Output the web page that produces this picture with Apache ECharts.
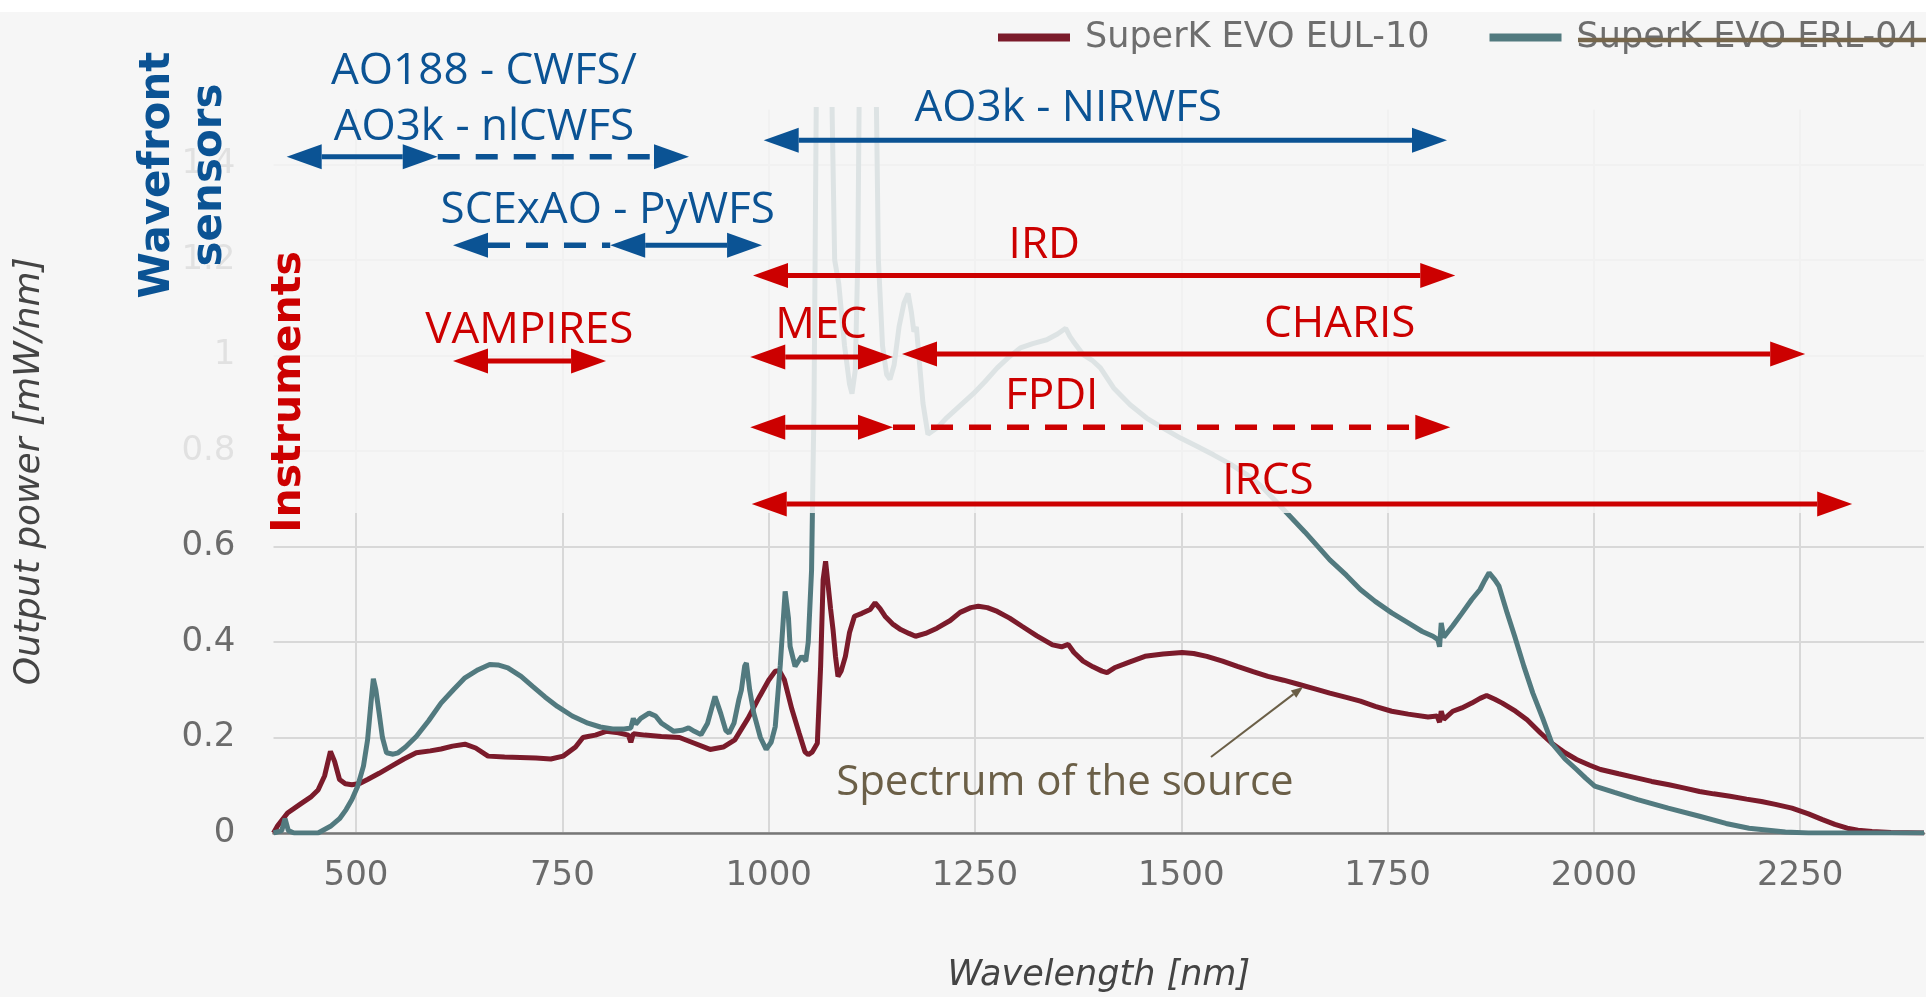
<!DOCTYPE html>
<html>
<head>
<meta charset="utf-8">
<script src="https://cdn.jsdelivr.net/npm/echarts@6.0.0/dist/echarts.min.js"></script>
<style>
html,body{margin:0;padding:0;background:#f6f6f6;}
#chart{width:1926px;height:997px;}
</style>
</head>
<body>
<div id="chart"></div>
<script>
// ---------- data ----------
const xTicks = [500, 750, 1000, 1250, 1500, 1750, 2000, 2250];
const yTicks = [0, 0.2, 0.4, 0.6, 0.8, 1, 1.2, 1.4];
const seriesNames = ['SuperK EVO EUL-10', 'SuperK EVO ERL-04'];

// [wavelength nm, output power mW/nm]
const eul10 = [
  [400,0],[405,0.015],[417,0.042],[432,0.06],[445,0.075],[454,0.09],[462,0.12],[469,0.171],[474,0.15],[480,0.112],
  [487,0.103],[495,0.101],[505,0.104],[514,0.112],[528,0.125],[543,0.14],[558,0.155],[573,0.168],[590,0.172],[603,0.176],
  [617,0.182],[632,0.186],[645,0.178],[660,0.161],[680,0.159],[699,0.158],[718,0.157],[736,0.155],[751,0.161],[766,0.18],
  [775,0.2],[781,0.202],[790,0.205],[803,0.213],[818,0.21],[830,0.205],[833,0.19],[836,0.208],[850,0.205],[870,0.202],
  [892,0.2],[910,0.188],[929,0.175],[945,0.18],[959,0.195],[975,0.24],[989,0.286],[1000,0.32],[1008,0.339],[1013,0.34],
  [1019,0.321],[1028,0.26],[1037,0.209],[1044,0.17],[1048,0.164],[1053,0.17],[1059,0.188],[1063,0.35],[1066,0.53],[1069,0.569],
  [1072,0.52],[1075,0.47],[1078,0.426],[1081,0.37],[1084,0.328],[1088,0.34],[1093,0.37],[1098,0.42],[1104,0.454],[1113,0.46],
  [1123,0.468],[1129,0.482],[1135,0.47],[1141,0.454],[1150,0.438],[1160,0.426],[1170,0.418],[1178,0.412],[1190,0.418],[1204,0.429],
  [1220,0.445],[1232,0.462],[1245,0.472],[1254,0.475],[1265,0.472],[1277,0.464],[1292,0.45],[1307,0.433],[1325,0.413],[1344,0.394],
  [1355,0.39],[1363,0.395],[1370,0.378],[1381,0.36],[1393,0.348],[1404,0.339],[1410,0.336],[1419,0.346],[1437,0.358],[1456,0.37],
  [1478,0.375],[1501,0.378],[1515,0.376],[1531,0.37],[1550,0.36],[1568,0.349],[1587,0.338],[1605,0.328],[1624,0.32],[1643,0.311],
  [1662,0.302],[1680,0.293],[1700,0.284],[1717,0.276],[1735,0.265],[1755,0.255],[1775,0.249],[1799,0.243],[1810,0.245],[1813,0.232],
  [1815,0.255],[1818,0.238],[1829,0.255],[1840,0.262],[1852,0.272],[1862,0.282],[1870,0.288],[1880,0.28],[1889,0.272],[1905,0.255],
  [1919,0.237],[1935,0.21],[1949,0.188],[1965,0.168],[1979,0.154],[1995,0.142],[2008,0.133],[2030,0.124],[2053,0.115],[2070,0.108],
  [2091,0.101],[2110,0.094],[2128,0.087],[2145,0.082],[2165,0.077],[2185,0.071],[2203,0.066],[2220,0.06],[2240,0.052],[2260,0.04],
  [2277,0.028],[2292,0.018],[2307,0.01],[2320,0.006],[2337,0.003],[2360,0.001],[2400,0]
];

const erl04 = [
  [400,0],[410,0.005],[414,0.03],[418,0.005],[425,0],[454,0],[469,0.014],[480,0.03],[488,0.049],[495,0.07],
  [502,0.098],[509,0.14],[514,0.195],[518,0.27],[521,0.323],[524,0.3],[528,0.251],[532,0.2],[537,0.168],[545,0.165],
  [551,0.168],[560,0.18],[573,0.202],[588,0.235],[603,0.272],[618,0.3],[632,0.325],[648,0.342],[662,0.353],[672,0.352],
  [684,0.346],[700,0.328],[714,0.307],[729,0.285],[744,0.265],[762,0.245],[781,0.23],[796,0.222],[811,0.218],[825,0.218],
  [833,0.22],[836,0.24],[839,0.228],[845,0.24],[855,0.251],[863,0.245],[870,0.23],[885,0.213],[895,0.215],[903,0.22],
  [910,0.213],[918,0.206],[926,0.23],[935,0.286],[942,0.25],[948,0.215],[952,0.209],[958,0.23],[964,0.28],[967,0.3],
  [971,0.35],[973,0.356],[977,0.3],[982,0.251],[990,0.2],[997,0.175],[1003,0.19],[1008,0.223],[1014,0.35],[1020,0.506],
  [1024,0.45],[1026,0.391],[1032,0.349],[1036,0.36],[1040,0.37],[1045,0.36],[1048,0.4],[1052,0.55],[1055,0.9],[1058,1.6],
  [1060,2.0],[1074,2.0],[1077,1.5],[1080,1.2],[1085,1.15],[1092,1.02],[1098,0.94],[1101,0.92],[1105,0.97],[1108,1.2],
  [1111,1.8],[1113,2.0],[1127,2.0],[1130,1.6],[1133,1.2],[1138,1.02],[1143,0.96],[1147,0.95],[1152,0.98],[1158,1.06],
  [1164,1.11],[1169,1.13],[1173,1.09],[1176,1.05],[1179,1.06],[1183,0.98],[1187,0.9],[1193,0.835],[1205,0.85],[1216,0.87],
  [1232,0.895],[1248,0.92],[1262,0.945],[1277,0.974],[1290,0.995],[1305,1.016],[1320,1.025],[1337,1.033],[1350,1.045],[1360,1.057],
  [1365,1.04],[1369,1.03],[1381,1.002],[1392,0.99],[1402,0.974],[1418,0.932],[1438,0.897],[1458,0.869],[1478,0.848],[1499,0.827],
  [1519,0.81],[1539,0.792],[1560,0.772],[1580,0.75],[1596,0.728],[1611,0.701],[1628,0.67],[1650,0.63],[1680,0.572],[1700,0.54],
  [1717,0.51],[1735,0.485],[1755,0.461],[1775,0.44],[1792,0.422],[1805,0.412],[1811,0.405],[1813,0.39],[1815,0.44],[1818,0.41],
  [1829,0.434],[1840,0.46],[1852,0.489],[1862,0.51],[1868,0.53],[1873,0.545],[1880,0.53],[1885,0.517],[1895,0.46],[1904,0.412],
  [1915,0.35],[1926,0.293],[1938,0.24],[1949,0.188],[1965,0.155],[1979,0.133],[1990,0.115],[2001,0.098],[2025,0.085],[2053,0.07],
  [2090,0.052],[2128,0.035],[2160,0.02],[2188,0.01],[2232,0.002],[2260,0],[2400,0]
];

// Coverage bands: [start nm, end nm, level on the power axis]
const wfsSolid  = [[416,599,1.416],[994,1822,1.451],[808,992,1.231]];
const wfsDashed = [[599,903.5,1.416],[617.5,808,1.231]];
const wfsLabels = ['AO188 - CWFS/\nAO3k - nlCWFS', 'AO3k - NIRWFS', 'SCExAO - PyWFS'];
const wfsLabelAt = [[655,1.5455],[1363,1.5267],[805,1.3131]];

const instSolid  = [[981,1832,1.1675],[617.5,803,0.9885],[977.7,1150.7,0.997],[1161.6,2256,1.003],[977.7,1150.7,0.8496],[979.5,2313,0.689]];
const instDashed = [[1150.7,1826,0.8496]];
const instLabels = ['IRD', 'VAMPIRES', 'MEC', 'CHARIS', 'FPDI', 'IRCS'];
const instLabelAt = [[1334,1.2398],[710,1.0618],[1063.5,1.0712],[1692,1.0743],[1343,0.9225],[1605,0.7445]];

const groupTitles = ['Wavefront\nsensors', 'Instruments'];
const sourceNote = ['Spectrum of the source'];
const sourceNoteAt = [[1359,0.1131]];
const sourcePointer = [[1536,0.159,1647.6,0.306]];

// ---------- styles ----------
const BLUE = '#0b5394', RED = '#cc0000', NOTE = '#6b5f47';
const EUL_COLOR = '#7b1b2b', ERL_COLOR = '#527a7f';
const PLOT_FONT = '"DejaVu Sans", Verdana, sans-serif';

function arrowShapes(p1, p2, color, width, headStart, headEnd, L, H, dash) {
  const dx = p2[0] - p1[0], dy = p2[1] - p1[1];
  const len = Math.hypot(dx, dy) || 1;
  const ux = dx / len, uy = dy / len, nx = -uy, ny = ux;
  const s = headStart ? [p1[0] + ux * L, p1[1] + uy * L] : p1;
  const e = headEnd ? [p2[0] - ux * L, p2[1] - uy * L] : p2;
  const kids = [{
    type: 'line',
    shape: {x1: s[0], y1: s[1], x2: e[0], y2: e[1]},
    style: {stroke: color, lineWidth: width, lineDash: dash || null, fill: null}
  }];
  if (headStart) kids.push({type: 'polygon', shape: {points: [p1, [s[0] + nx * H, s[1] + ny * H], [s[0] - nx * H, s[1] - ny * H]]}, style: {fill: color}});
  if (headEnd) kids.push({type: 'polygon', shape: {points: [p2, [e[0] + nx * H, e[1] + ny * H], [e[0] - nx * H, e[1] - ny * H]]}, style: {fill: color}});
  return kids;
}

function bandSeries(name, segs, color, dashed, solidRef) {
  return {
    type: 'custom', name: name, coordinateSystem: 'cartesian2d', silent: true, z: 6,
    data: segs, encode: {x: [0, 1], y: 2},
    renderItem: function (params, api) {
      const a = api.value(0), b = api.value(1), lv = api.value(2);
      const p1 = api.coord([a, lv]), p2 = api.coord([b, lv]);
      let hs = true, he = true;
      if (dashed) {
        const touches = v => solidRef.some(s => Math.abs(s[2] - lv) < 1e-6 && (Math.abs(s[0] - v) < 1e-6 || Math.abs(s[1] - v) < 1e-6));
        hs = !touches(a); he = !touches(b);
      }
      return {type: 'group', children: arrowShapes(p1, p2, color, dashed ? 5.5 : 5, hs, he, 35, 12.5, dashed ? [22, 16] : null)};
    }
  };
}

function labelSeries(name, texts, at, color, size) {
  return {
    type: 'custom', name: name, coordinateSystem: 'cartesian2d', silent: true, z: 7,
    data: at,
    renderItem: function (params, api) {
      const p = api.coord([api.value(0), api.value(1)]);
      return {
        type: 'text', x: p[0], y: p[1] + 4,
        style: {text: texts[params.dataIndex], fill: color, fontSize: size, fontFamily: '"Open Sans"',
                align: 'center', verticalAlign: 'middle', lineHeight: 56}
      };
    }
  };
}

const chart = echarts.init(document.getElementById('chart'), null, {renderer: 'canvas'});
const option = {
  backgroundColor: '#f6f6f6',
  animation: false,
  grid: {left: 273.5, right: 2, top: 109.6, bottom: 164, containLabel: false, outerBoundsMode: 'none'},
  legend: {
    data: seriesNames, left: 998, top: 20, padding: 0, width: 1600, icon: 'rect', itemWidth: 72, itemHeight: 8, itemGap: 60,
    selectedMode: false,
    textStyle: {fontFamily: PLOT_FONT, fontSize: 35, color: '#6e6e6e', padding: [0, 0, 0, 10]}
  },
  xAxis: {
    type: 'value', min: 400, max: 2400,
    name: 'Wavelength [nm]', nameLocation: 'middle', nameGap: 125,
    nameTextStyle: {fontFamily: PLOT_FONT, fontStyle: 'italic', fontSize: 35, color: '#444'},
    axisLine: {show: true, onZero: false, lineStyle: {color: '#777', width: 2.5}},
    axisTick: {show: false, customValues: xTicks},
    axisLabel: {customValues: xTicks, margin: 26, fontFamily: PLOT_FONT, fontSize: 34, color: '#6b6b6b',
                formatter: v => String(v)},
    splitLine: {show: true, lineStyle: {color: '#d8d8d8', width: 2}}
  },
  yAxis: {
    type: 'value', min: 0, max: 1.515,
    name: 'Output power [mW/nm]', nameLocation: 'middle', nameGap: 226,
    nameTextStyle: {fontFamily: PLOT_FONT, fontStyle: 'italic', fontSize: 36, color: '#444'},
    axisLine: {show: false},
    axisTick: {show: false, customValues: yTicks},
    axisLabel: {customValues: yTicks, margin: 38, fontFamily: PLOT_FONT, fontSize: 34, color: '#6b6b6b',
                formatter: v => String(v)},
    splitLine: {show: true, lineStyle: {color: '#d8d8d8', width: 2}}
  },
  series: [
    {type: 'line', name: seriesNames[0], data: eul10, symbol: 'none', showSymbol: false, silent: true, z: 2,
     lineStyle: {color: EUL_COLOR, width: 5}, itemStyle: {color: EUL_COLOR}},
    {type: 'line', name: seriesNames[1], data: erl04, symbol: 'none', showSymbol: false, silent: true, z: 2,
     lineStyle: {color: ERL_COLOR, width: 5}, itemStyle: {color: ERL_COLOR}},
    bandSeries('wfsSolid', wfsSolid, BLUE, false, null),
    bandSeries('wfsDashed', wfsDashed, BLUE, true, wfsSolid),
    bandSeries('instSolid', instSolid, RED, false, null),
    bandSeries('instDashed', instDashed, RED, true, instSolid),
    labelSeries('wfsLabels', wfsLabels, wfsLabelAt, BLUE, 44),
    labelSeries('instLabels', instLabels, instLabelAt, RED, 44),
    labelSeries('sourceNote', sourceNote, sourceNoteAt, NOTE, 42),
    {
      type: 'custom', name: 'sourcePointer', coordinateSystem: 'cartesian2d', silent: true, z: 7,
      data: sourcePointer, encode: {x: [0, 2], y: [1, 3]},
      renderItem: function (params, api) {
        const p1 = api.coord([api.value(0), api.value(1)]);
        const p2 = api.coord([api.value(2), api.value(3)]);
        return {type: 'group', children: arrowShapes(p1, p2, NOTE, 2, false, true, 12, 4.5, null)};
      }
    }
  ],
  graphic: [
    {type: 'rect', shape: {x: 0, y: 0, width: 1926, height: 12}, style: {fill: '#ffffff'}, z: 0, silent: true},
    {type: 'rect', shape: {x: 150, y: 80, width: 1776, height: 433}, style: {fill: 'rgba(246,246,246,0.85)'}, z: 3, silent: true},
    {type: 'text', x: 184, y: 175, rotation: Math.PI / 2, z: 8, silent: true,
     style: {text: groupTitles[0], fill: BLUE, fontWeight: 'bold', fontSize: 42, fontFamily: '"DejaVu Sans"',
             align: 'center', verticalAlign: 'middle', lineHeight: 52}},
    {type: 'text', x: 289, y: 392, rotation: Math.PI / 2, z: 8, silent: true,
     style: {text: groupTitles[1], fill: RED, fontWeight: 'bold', fontSize: 41, fontFamily: '"DejaVu Sans"',
             align: 'center', verticalAlign: 'middle'}},
    {type: 'line', shape: {x1: 1578, y1: 40, x2: 1926, y2: 40}, style: {stroke: '#76664b', lineWidth: 4.5}, z: 10, silent: true}
  ]
};
chart.setOption(option);
</script>
</body>
</html>
